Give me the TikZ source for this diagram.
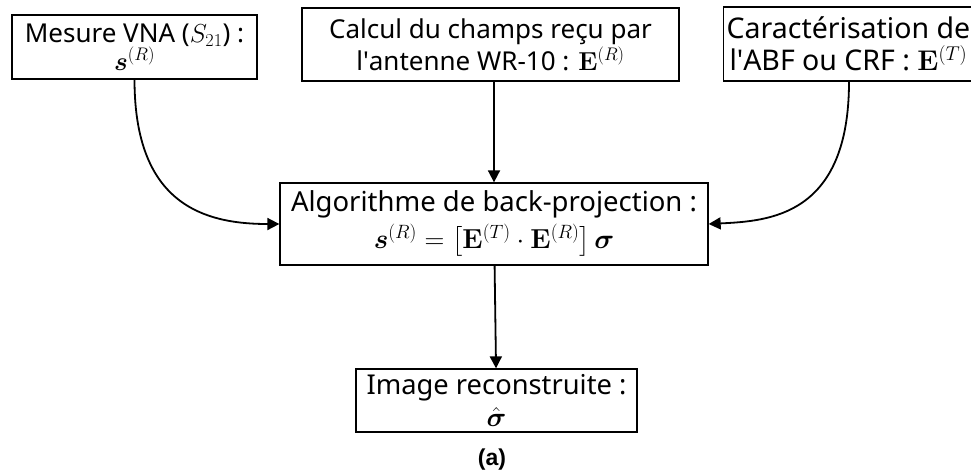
\RequirePackage{fix-cm}
\documentclass[tikz,border=0pt]{standalone}
\usepackage{amsmath}
\usepackage[no-math]{fontspec}
\setmainfont{Noto Sans}
\newfontfamily\capfont{Liberation Sans}
\usetikzlibrary{arrows.meta}

\begin{document}
\begin{tikzpicture}[
    x=1pt, y=-1pt,
    >={Triangle[length=12pt,width=12pt]},
    % -------------------------------------------------
    % Node styles
    % -------------------------------------------------
    stage/.style={
        rectangle,
        draw=black,
        line width=1.3pt,
        fill=white,
        inner sep=3pt,
        align=center,
        font=\fontsize{26}{32}\selectfont
    },
    caption/.style={
        font=\capfont\bfseries\fontsize{23}{26}\selectfont
    },
    % -------------------------------------------------
    % Connections
    % -------------------------------------------------
    arrow/.style={
        ->,
        line width=1.8pt,
        draw=black
    }
]

\clip (0,0) rectangle (971,475);

% =====================================================
% Inputs
% =====================================================

\node[stage, minimum width=245pt, minimum height=64pt,
      font=\fontsize{26}{27}\selectfont] (vna) at (134.5,47)
    {Mesure VNA ($S_{21}$) :\\$\boldsymbol{s}^{(R)}$};

\node[stage, minimum width=377pt, minimum height=73pt] (wr10) at (490.5,44.5)
    {Calcul du champs reçu par\\l\textquotesingle antenne WR-10 : $\mathbf{E}^{(R)}$};

\node[stage, anchor=west, minimum height=74pt,
      font=\fontsize{28.5}{32}\selectfont] (abf) at (723,44)
    {Caractérisation de\\l\textquotesingle ABF ou CRF : $\mathbf{E}^{(T)}$};

% =====================================================
% Back-projection
% =====================================================

\node[stage, minimum width=428pt, minimum height=82pt,
      font=\fontsize{27.5}{37}\selectfont] (bp) at (494,224)
    {Algorithme de back-projection :\\$\boldsymbol{s}^{(R)} = \big[\mathbf{E}^{(T)}\cdot\mathbf{E}^{(R)}\big]\,\boldsymbol{\sigma}$};

% =====================================================
% Output
% =====================================================

\node[stage, minimum width=281pt, minimum height=63pt,
      font=\fontsize{27.3}{32}\selectfont] (img) at (496.5,400.5)
    {Image reconstruite :\\$\hat{\boldsymbol{\sigma}}$};

\node[caption] (lbl) at (492,460) {(a)};

% =====================================================
% Flow
% =====================================================

\draw[arrow]
    (vna.south) .. controls +(0,125) and +(-75,0) .. (bp.west);

\draw[arrow]
    (wr10.south -| bp.north) -- (bp.north);

\draw[arrow]
    (abf.south -| 849,0) .. controls +(0,135) and +(60,-3) .. (bp.east);

\draw[arrow]
    (bp) -- (img);

\end{tikzpicture}
\end{document}
